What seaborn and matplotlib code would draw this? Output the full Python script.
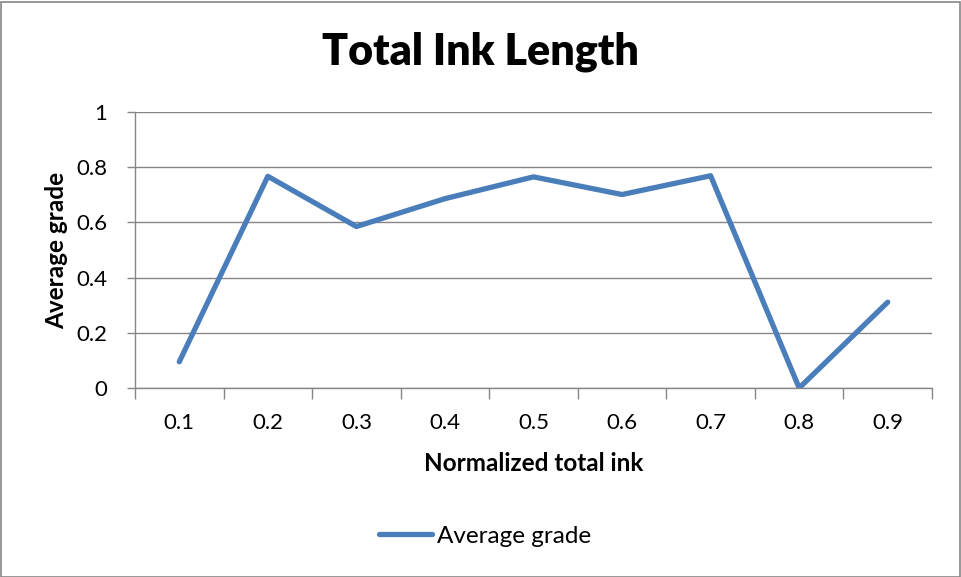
import matplotlib
matplotlib.use("Agg")
import matplotlib.pyplot as plt
from matplotlib.patches import Rectangle
from matplotlib.ticker import FixedLocator
import seaborn as sns
import pandas as pd

categories = ["0.1", "0.2", "0.3", "0.4", "0.5", "0.6", "0.7", "0.8", "0.9"]
average_grade = [0.095, 0.767, 0.585, 0.686, 0.765, 0.701, 0.769, 0.0, 0.311]
y_ticks = [0, 0.2, 0.4, 0.6, 0.8, 1.0]
y_tick_labels = ["0", "0.2", "0.4", "0.6", "0.8", "1"]

df = pd.DataFrame({"ink": categories, "grade": average_grade})

sns.set_theme(style="white")
plt.rcParams["font.family"] = ["Lato", "DejaVu Sans"]
plt.rcParams["text.color"] = "black"

fig = plt.figure(figsize=(9.61, 5.77), dpi=100)
ax = fig.add_axes([135 / 961, 1 - 388 / 577, (932 - 135) / 961, (388 - 112) / 577])

sns.lineplot(data=df, x="ink", y="grade", ax=ax, color="#4A7EBB",
             linewidth=3.8, sort=False, label="Average grade")

ax.set_xlim(-0.5, len(categories) - 0.5)
ax.set_ylim(0, 1)
ax.set_yticks(y_ticks)
ax.set_yticklabels(y_tick_labels)
ax.set_xticks(range(len(categories)))
ax.set_xticklabels(categories)
ax.xaxis.set_minor_locator(FixedLocator([i - 0.5 for i in range(len(categories) + 1)]))

ax.tick_params(axis="x", which="major", length=0, pad=18, labelsize=16, labelcolor="black")
ax.tick_params(axis="x", which="minor", length=8, width=1, color="#868686", bottom=True)
ax.tick_params(axis="y", which="major", length=6, width=1, color="#868686", left=True,
               pad=14, labelsize=16, labelcolor="black")

ax.grid(axis="y", color="#868686", linewidth=1)
ax.set_axisbelow(True)
for side in ["top", "right"]:
    ax.spines[side].set_visible(False)
for side in ["left", "bottom"]:
    ax.spines[side].set_color("#868686")
    ax.spines[side].set_linewidth(1)

ax.set_xlabel("Normalized total ink", fontsize=17.5, fontweight="bold", labelpad=14,
              color="black")
ax.set_ylabel("Average grade", fontsize=17.5, fontweight="bold", labelpad=6,
              color="black")

fig.text(0.5, 1 - 52 / 577, "Total Ink Length", ha="center", va="center",
         fontsize=31, fontweight="heavy", color="black")

ax.legend(loc="center",
          bbox_to_anchor=((485 - 135) / (932 - 135), (388 - 536) / (388 - 112)),
          bbox_transform=ax.transAxes, frameon=False, fontsize=17.5,
          handlelength=2.2, handletextpad=0.2)

fig.patches.append(Rectangle((0.5 / 961, 0.5 / 577), 1 - 2 / 961, 1 - 2 / 577,
                             transform=fig.transFigure, fill=False,
                             edgecolor="#868686", linewidth=1.2))

fig.savefig("out.png", dpi=100)
